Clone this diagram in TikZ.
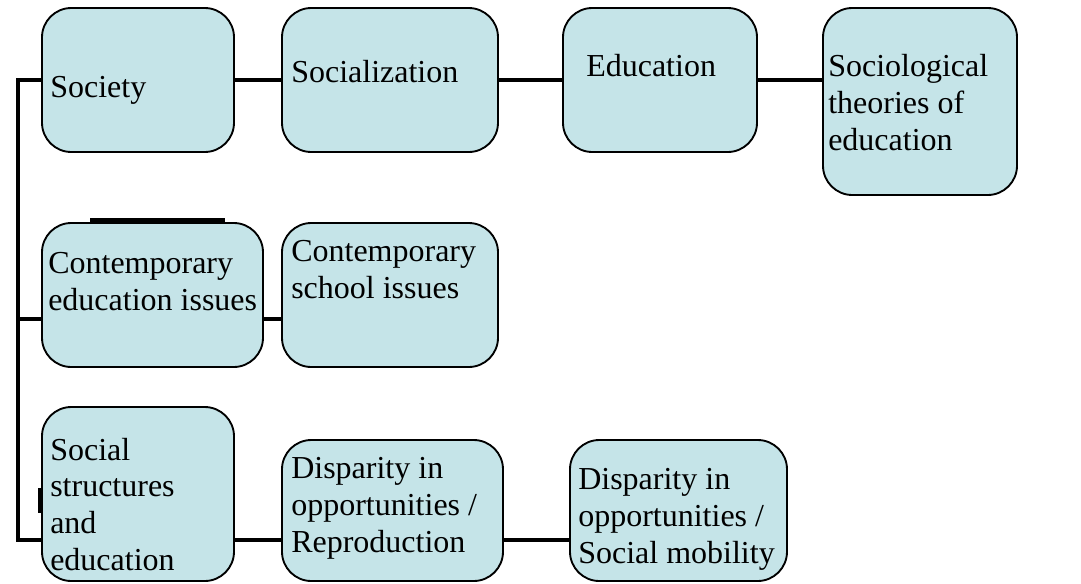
\documentclass[tikz,border=0pt]{standalone}
\usepackage{fontspec}
\setmainfont{Liberation Serif}
\usetikzlibrary{fit}
\definecolor{topicfill}{RGB}{197,228,232}
\tikzset{
    topic/.style={
        draw=black, line width=1.4pt, fill=topicfill,
        rounded corners=22pt, inner sep=0pt
    },
    topictext/.style={
        anchor=base west, align=left, inner sep=0pt,
        font=\fontsize{24}{27.5}\selectfont
    },
    link/.style={line width=3.6pt}
}
% name, corners (x1,y1) (x2,y2), baseline of last line (tx,ty), text
\newcommand{\topic}[8] {
	\node[topic, fit={(#2,#3) (#4,#5)}] (#1) {};
	\node[topictext] (#1-text) at (#6,#7) {#8};
}

\begin{document}
\begin{tikzpicture}[x=0.75pt, y=-0.75pt]
		\useasboundingbox (0,0) rectangle (1081,583);

		% Loose marks behind the boxes
		\draw[link] (90,220.5) -- (225,220.5);
		\draw[link] (40.5,488) -- (40.5,513);

		% First row
		\topic{soc}{42}{8}{234}{152}{50}{97}{Society}
		\topic{socz}{282}{8}{498}{152}{291}{82}{Socialization}
		\topic{edu}{563}{8}{757}{152}{586}{76}{Education}
		\topic{theo}{823}{8}{1017}{195}{828}{150}{Sociological\\theories of\\education}

		% Second row
		\topic{cei}{42}{223}{263}{367}{48}{310}{Contemporary\\education issues}
		\topic{csi}{282}{223}{498}{367}{291}{298}{Contemporary\\school issues}

		% Third row
		\topic{sse}{42}{407}{234}{581}{50}{570}{Social\\structures\\and\\education}
		\topic{rep}{282}{440}{503}{581}{291}{552}{Disparity in\\opportunities /\\Reproduction}
		\topic{mob}{570}{440}{787}{581}{578}{563}{Disparity in\\opportunities /\\Social mobility}

		% Spine on the left
		\coordinate (s1) at (18,80);
		\coordinate (s2) at (18,319);
		\coordinate (s3) at (18,540);
		\draw[link] (s1 -| soc.west) -- (s1) -- (s3) -- (s3 -| sse.west);
		\draw[link] (s2) -- (s2 -| cei.west);

		% Links along the rows
		\draw[link] (soc.east) -- (socz.west);
		\draw[link] (socz.east) -- (edu.west);
		\draw[link] (edu.east) -- (edu.east -| theo.west);
		\draw[link] (s2 -| cei.east) -- (s2 -| csi.west);
		\draw[link] (s3 -| sse.east) -- (s3 -| rep.west);
		\draw[link] (s3 -| rep.east) -- (s3 -| mob.west);

	\end{tikzpicture}
\end{document}
